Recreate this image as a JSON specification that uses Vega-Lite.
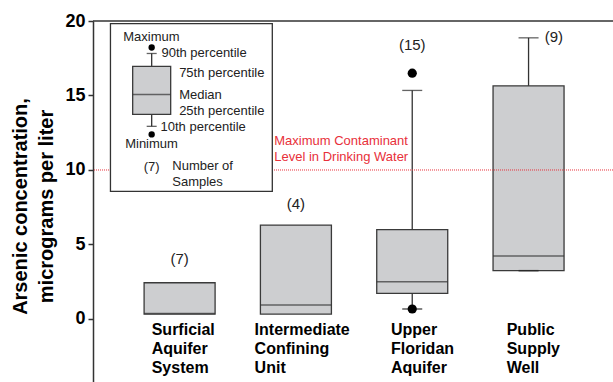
{
  "$schema": "https://vega.github.io/schema/vega-lite/v6.json",
  "width": 520,
  "height": 361,
  "autosize": {"type": "none"},
  "padding": {"left": 93, "top": 21, "right": 0, "bottom": 0},
  "background": "white",
  "config": {"view": {"stroke": null}, "font": "Liberation Sans"},
  "data": {"values": [{"one": 1}]},
  "datasets": {
    "box": [
      {"group": "Surficial Aquifer System", "pos": 1, "q1": 0.33, "median": 0.37, "q3": 2.43, "p10": null, "p90": null, "min": null, "max": null, "n": "(7)", "nx": 1, "ny": 4.0},
      {"group": "Intermediate Confining Unit", "pos": 2, "q1": 0.33, "median": 0.94, "q3": 6.3, "p10": null, "p90": null, "min": null, "max": null, "n": "(4)", "nx": 2, "ny": 7.7},
      {"group": "Upper Floridan Aquifer", "pos": 3, "q1": 1.72, "median": 2.5, "q3": 6.0, "p10": 0.67, "p90": 15.34, "min": 0.67, "max": 16.5, "n": "(15)", "nx": 3, "ny": 18.42},
      {"group": "Public Supply Well", "pos": 4, "q1": 3.24, "median": 4.22, "q3": 15.65, "p10": 3.24, "p90": 18.87, "min": null, "max": null, "n": "(9)", "nx": 4.218, "ny": 18.9}
    ],
    "cats": [
      {"label": "Surficial\nAquifer\nSystem", "lx": 0.76},
      {"label": "Intermediate\nConfining\nUnit", "lx": 1.645},
      {"label": "Upper\nFloridan\nAquifer", "lx": 2.817},
      {"label": "Public\nSupply\nWell", "lx": 3.812}
    ],
    "key": [
      {"pos": 0.76, "q1": 13.73, "median": 15.07, "q3": 16.95, "p10": 12.93, "p90": 17.82, "min": 12.39, "max": 18.22}
    ],
    "keytext": [
      {"t": "Maximum", "x": 0.515, "y": 18.9},
      {"t": "90th percentile", "x": 0.844, "y": 17.82},
      {"t": "75th percentile", "x": 0.996, "y": 16.54},
      {"t": "Median", "x": 0.996, "y": 15.0},
      {"t": "25th percentile", "x": 0.996, "y": 13.93},
      {"t": "10th percentile", "x": 0.836, "y": 12.86},
      {"t": "Minimum", "x": 0.532, "y": 11.72},
      {"t": "(7)", "x": 0.692, "y": 10.18},
      {"t": "Number of", "x": 0.937, "y": 10.25},
      {"t": "Samples", "x": 0.937, "y": 9.18}
    ],
    "mcl": [
      {"t": "Maximum Contaminant\nLevel in Drinking Water", "x": 1.814, "y": 11.92}
    ]
  },
  "layer": [
    {
      "data": {"name": "box"},
      "mark": {"type": "bar", "width": 71, "fill": "#cdced0", "stroke": "#3a3a3a", "strokeWidth": 1.3},
      "encoding": {
        "x": {"field": "pos", "type": "quantitative", "scale": {"domain": [0.2985, 4.683], "nice": false, "zero": false}, "axis": null},
        "y": {"field": "q1", "type": "quantitative", "scale": {"domain": [-4.23, 20], "nice": false, "zero": false},
          "axis": {"values": [0, 5, 10, 15, 20], "title": ["Arsenic concentration,", "micrograms per liter"], "titleFontSize": 20, "titleFontWeight": "bold", "titleColor": "black", "titleLineHeight": 26, "titlePadding": 8, "titleY": 185, "labelFontSize": 18, "labelFontWeight": "bold", "labelColor": "black", "labelPadding": 3, "tickSize": 5, "tickColor": "#333", "tickWidth": 1.5, "domainColor": "#333", "domainWidth": 1.5, "grid": false}},
        "y2": {"field": "q3"}
      }
    },
    {
      "data": {"name": "box"},
      "transform": [{"filter": "datum.p90 != null"}],
      "mark": {"type": "rule", "color": "#333", "strokeWidth": 1.3},
      "encoding": {
        "x": {"field": "pos", "type": "quantitative"},
        "y": {"field": "q3", "type": "quantitative"},
        "y2": {"field": "p90"}
      }
    },
    {
      "data": {"name": "box"},
      "transform": [{"filter": "datum.p10 != null"}],
      "mark": {"type": "rule", "color": "#333", "strokeWidth": 1.3},
      "encoding": {
        "x": {"field": "pos", "type": "quantitative"},
        "y": {"field": "q1", "type": "quantitative"},
        "y2": {"field": "p10"}
      }
    },
    {
      "data": {"name": "box"},
      "transform": [{"filter": "datum.p90 != null"}],
      "mark": {"type": "tick", "orient": "horizontal", "size": 20, "thickness": 1.3, "color": "#222"},
      "encoding": {
        "x": {"field": "pos", "type": "quantitative"},
        "y": {"field": "p90", "type": "quantitative"}
      }
    },
    {
      "data": {"name": "box"},
      "transform": [{"filter": "datum.p10 != null"}],
      "mark": {"type": "tick", "orient": "horizontal", "size": 20, "thickness": 1.6, "color": "#222"},
      "encoding": {
        "x": {"field": "pos", "type": "quantitative"},
        "y": {"field": "p10", "type": "quantitative"}
      }
    },
    {
      "data": {"name": "box"},
      "mark": {"type": "tick", "orient": "horizontal", "size": 71, "thickness": 1.5, "color": "#333"},
      "encoding": {
        "x": {"field": "pos", "type": "quantitative"},
        "y": {"field": "median", "type": "quantitative"}
      }
    },
    {
      "data": {"name": "box"},
      "transform": [{"filter": "datum.max != null"}],
      "mark": {"type": "point", "filled": true, "color": "black", "size": 85, "opacity": 1},
      "encoding": {
        "x": {"field": "pos", "type": "quantitative"},
        "y": {"field": "max", "type": "quantitative"}
      }
    },
    {
      "data": {"name": "box"},
      "transform": [{"filter": "datum.min != null"}],
      "mark": {"type": "point", "filled": true, "color": "black", "size": 85, "opacity": 1},
      "encoding": {
        "x": {"field": "pos", "type": "quantitative"},
        "y": {"field": "min", "type": "quantitative"}
      }
    },
    {
      "data": {"name": "box"},
      "mark": {"type": "text", "fontSize": 15, "color": "#222", "align": "center", "baseline": "middle"},
      "encoding": {
        "x": {"field": "nx", "type": "quantitative"},
        "y": {"field": "ny", "type": "quantitative"},
        "text": {"field": "n"}
      }
    },
    {
      "data": {"name": "cats"},
      "mark": {"type": "text", "fontSize": 16, "fontWeight": "bold", "color": "black", "align": "left", "baseline": "middle", "lineBreak": "\n", "lineHeight": 19},
      "encoding": {
        "x": {"field": "lx", "type": "quantitative"},
        "y": {"datum": -0.74, "type": "quantitative"},
        "text": {"field": "label"}
      }
    },
    {
      "mark": {"type": "rule", "color": "#333", "strokeWidth": 1.5},
      "encoding": {"y": {"datum": 20, "type": "quantitative"}}
    },
    {
      "mark": {"type": "rule", "color": "#e8303a", "strokeWidth": 1, "strokeDash": [1, 1]},
      "encoding": {"y": {"datum": 10, "type": "quantitative"}}
    },
    {
      "data": {"name": "mcl"},
      "mark": {"type": "text", "fontSize": 13, "color": "#e8303a", "align": "left", "baseline": "middle", "lineBreak": "\n", "lineHeight": 16},
      "encoding": {
        "x": {"field": "x", "type": "quantitative"},
        "y": {"field": "y", "type": "quantitative"},
        "text": {"field": "t"}
      }
    },
    {
      "mark": {"type": "rect", "fill": "white", "stroke": "#333", "strokeWidth": 1.3},
      "encoding": {
        "x": {"datum": 0.4056, "type": "quantitative"},
        "x2": {"datum": 1.797},
        "y": {"datum": 19.83, "type": "quantitative"},
        "y2": {"datum": 8.57}
      }
    },
    {
      "data": {"name": "key"},
      "mark": {"type": "rule", "color": "#333", "strokeWidth": 1.3},
      "encoding": {
        "x": {"field": "pos", "type": "quantitative"},
        "y": {"field": "p10", "type": "quantitative"},
        "y2": {"field": "p90"}
      }
    },
    {
      "data": {"name": "key"},
      "mark": {"type": "bar", "width": 38, "fill": "#cdced0", "stroke": "#3a3a3a", "strokeWidth": 1.3},
      "encoding": {
        "x": {"field": "pos", "type": "quantitative"},
        "y": {"field": "q1", "type": "quantitative"},
        "y2": {"field": "q3"}
      }
    },
    {
      "data": {"name": "key"},
      "mark": {"type": "tick", "orient": "horizontal", "size": 38, "thickness": 1.4, "color": "#333"},
      "encoding": {
        "x": {"field": "pos", "type": "quantitative"},
        "y": {"field": "median", "type": "quantitative"}
      }
    },
    {
      "data": {"name": "key"},
      "mark": {"type": "tick", "orient": "horizontal", "size": 10, "thickness": 1.3, "color": "#222"},
      "encoding": {
        "x": {"field": "pos", "type": "quantitative"},
        "y": {"field": "p90", "type": "quantitative"}
      }
    },
    {
      "data": {"name": "key"},
      "mark": {"type": "tick", "orient": "horizontal", "size": 10, "thickness": 1.3, "color": "#222"},
      "encoding": {
        "x": {"field": "pos", "type": "quantitative"},
        "y": {"field": "p10", "type": "quantitative"}
      }
    },
    {
      "data": {"name": "key"},
      "mark": {"type": "point", "filled": true, "color": "black", "size": 40, "opacity": 1},
      "encoding": {
        "x": {"field": "pos", "type": "quantitative"},
        "y": {"field": "max", "type": "quantitative"}
      }
    },
    {
      "data": {"name": "key"},
      "mark": {"type": "point", "filled": true, "color": "black", "size": 40, "opacity": 1},
      "encoding": {
        "x": {"field": "pos", "type": "quantitative"},
        "y": {"field": "min", "type": "quantitative"}
      }
    },
    {
      "data": {"name": "keytext"},
      "mark": {"type": "text", "fontSize": 13, "color": "#222", "align": "left", "baseline": "middle"},
      "encoding": {
        "x": {"field": "x", "type": "quantitative"},
        "y": {"field": "y", "type": "quantitative"},
        "text": {"field": "t"}
      }
    }
  ]
}
